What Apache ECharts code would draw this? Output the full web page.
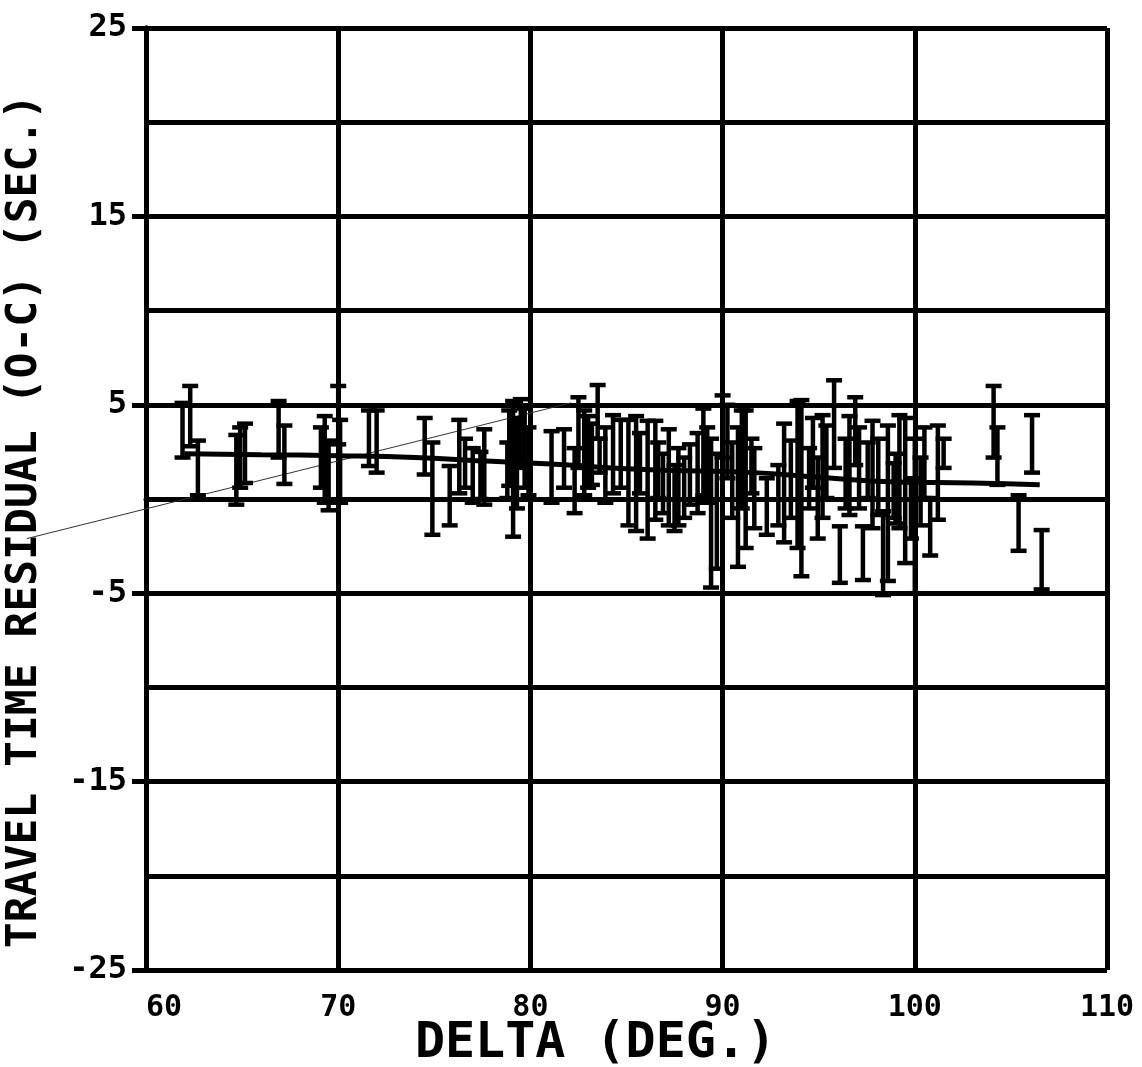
<!DOCTYPE html>
<html>
<head>
<meta charset="utf-8">
<script src="https://cdn.jsdelivr.net/npm/echarts@6/dist/echarts.min.js"></script>
<style>
  html, body { margin: 0; padding: 0; background: #fff; }
  #chart { width: 1142px; height: 1067px; }
</style>
</head>
<body>
<div id="chart"></div>
<script>
// error bars: delta (deg), lower and upper residual (sec)
const barX = [61.9, 62.3, 62.7, 64.7, 64.9, 65.15, 66.9, 67.2, 69.1, 69.3, 69.5, 70.0, 70.1, 71.6, 72.0,
  74.5, 74.9, 75.8, 76.3, 76.6, 77.0, 77.4, 77.6, 78.8, 78.9, 79.1, 79.3, 79.5, 79.7, 79.9,
  81.1, 81.75, 82.3, 82.5, 82.8, 83.0, 83.2, 83.5, 83.6, 83.9, 84.3, 84.7, 85.1, 85.5, 85.7,
  86.1, 86.5, 86.65, 86.9, 87.2, 87.5, 87.7, 88.0, 88.3, 88.7, 89.0, 89.2, 89.4, 89.7, 90.0,
  90.25, 90.5, 90.8, 91.0, 91.2, 91.5, 91.65, 92.3, 92.9, 93.2, 93.55, 93.9, 94.1, 94.5, 94.7,
  94.95, 95.2, 95.4, 95.8, 96.1, 96.4, 96.6, 96.9, 97.1, 97.3, 97.55, 97.8, 98.1, 98.35, 98.6,
  98.9, 99.0, 99.2, 99.5, 99.8, 100.0, 100.3, 100.5, 100.8, 101.2, 101.5, 104.1, 104.3, 105.4, 106.1,
  106.6]
const barLow = [2.2, 2.8, 0.2, -0.3, 0.6, 0.85, 2.2, 0.8, 0.6, -0.2, -0.6, 2.9, -0.2, 1.75, 1.4,
  1.3, -1.9, -1.4, 0.3, 0.6, -0.2, 0.0, -0.3, 0.05, 0.7, -2.0, -0.5, 1.65, 0.6, 0.2,
  -0.2, 0.6, -0.75, 1.65, 0.2, 0.6, 0.75, 3.2, 1.4, -0.2, 0.3, 0.6, -1.4, -1.7, 0.3,
  -2.1, -1.1, 0.05, -0.75, -1.4, -1.7, -1.4, -1.0, -0.3, -0.75, 0.2, -0.2, -4.7, -3.7, 2.2,
  1.1, -1.0, -3.6, -0.5, -2.6, 0.3, -1.55, -1.9, -1.4, -2.3, -1.0, -2.6, -4.1, -0.5, 0.6,
  -2.1, -1.0, 0.05, 1.65, -4.45, -0.5, -0.85, 1.8, -0.5, -4.3, 0.05, -1.55, -0.85, -5.1, -4.35,
  -1.0, -1.3, -1.55, -3.4, -2.1, -5.0, -1.4, 0.05, -3.0, -1.1, 1.65, 2.2, 0.75, -2.75, 1.4,
  -4.8]
const barHigh = [5.1, 6.0, 3.1, 3.4, 3.8, 4.0, 5.2, 3.9, 3.8, 4.4, 3.1, 6.0, 4.2, 4.7, 4.7,
  4.3, 3.0, 1.75, 4.2, 3.2, 2.7, 2.5, 3.7, 3.0, 4.7, 5.2, 4.3, 5.3, 4.8, 3.8,
  3.6, 3.7, 2.7, 5.4, 4.7, 4.4, 4.0, 6.05, 3.2, 3.8, 4.45, 4.2, 4.2, 4.4, 3.5,
  4.15, 4.15, 3.0, 2.4, 3.7, 1.8, 2.7, 2.2, 2.9, 3.5, 4.8, 3.8, 3.2, 2.4, 5.5,
  5.0, 3.0, 3.8, 4.7, 4.7, 3.2, 2.7, 1.1, 1.8, 4.0, 3.1, 5.2, 5.25, 2.7, 4.3,
  2.2, 4.45, 3.9, 6.3, -1.45, 3.2, 4.4, 5.4, 3.8, -1.45, 3.0, 4.15, 3.2, -0.65, 3.9,
  1.9, 2.4, 4.45, 4.3, 1.1, 3.2, 2.2, 3.8, 0.05, 3.9, 3.2, 6.0, 3.8, 0.2, 4.45,
  -1.65]

// fitted residual curve
const fitX = [62, 66, 70, 74, 78, 82, 85, 88, 91.6, 95, 99, 103, 106.5]
const fitY = [2.4, 2.35, 2.3, 2.2, 2.0, 1.8, 1.6, 1.5, 1.4, 1.15, 0.9, 0.85, 0.75]

// faint pencil stroke across the sheet (start and end)
const strokeX = [53.8, 82.1]
const strokeY = [-2.1, 5.1]

const yTickLabels = ['-25', '-15', '-5', '5', '15', '25']

const font = 'DejaVu Sans Mono'
const chart = echarts.init(document.getElementById('chart'))

const renderBar = (params, api) => {
  const x = api.value(0)
  const lo = api.coord([x, api.value(1)])
  const hi = api.coord([x, api.value(2)])
  const half = 8
  const style = { stroke: '#000', lineWidth: 4.5 }
  return {
    type: 'group',
    children: [
      { type: 'line', shape: { x1: lo[0], y1: lo[1], x2: hi[0], y2: hi[1] }, style },
      { type: 'line', shape: { x1: lo[0] - half, y1: lo[1], x2: lo[0] + half, y2: lo[1] }, style },
      { type: 'line', shape: { x1: hi[0] - half, y1: hi[1], x2: hi[0] + half, y2: hi[1] }, style }
    ]
  }
}

const renderStroke = (params, api) => {
  const a = api.coord([api.value(0), api.value(1)])
  const b = api.coord([api.value(2), api.value(3)])
  return {
    type: 'line',
    shape: { x1: a[0], y1: a[1], x2: b[0], y2: b[1] },
    style: { stroke: '#333', lineWidth: 1 }
  }
}

chart.setOption({
  animation: false,
  backgroundColor: '#fff',
  grid: { left: 146, right: 35, top: 28, bottom: 97, outerBoundsMode: 'none', containLabel: false },
  xAxis: {
    type: 'value',
    min: 60,
    max: 110,
    interval: 10,
    name: 'DELTA (DEG.)',
    nameLocation: 'middle',
    nameGap: 49,
    nameMoveOverlap: false,
    nameTextStyle: { fontFamily: font, fontSize: 50, fontWeight: 'bold', color: '#000', verticalAlign: 'top', padding: [0, 62, 0, 0] },
    axisLine: { lineStyle: { color: '#000', width: 5 } },
    axisTick: { inside: false, length: 13, lineStyle: { color: '#000', width: 5 } },
    axisLabel: { margin: 23, color: '#000', fontFamily: font, fontWeight: 'bold', fontSize: 30, alignMinLabel: 'left' },
    splitLine: { lineStyle: { color: '#000', width: 5 } }
  },
  yAxis: [
    {
      type: 'value',
      min: -25,
      max: 25,
      interval: 5,
      axisLine: { show: true, lineStyle: { color: '#000', width: 5 } },
      axisTick: { show: false },
      axisLabel: { show: false },
      splitLine: { lineStyle: { color: '#000', width: 5 } }
    },
    {
      type: 'value',
      position: 'left',
      min: 0,
      max: 50,
      interval: 10,
      name: 'TRAVEL TIME RESIDUAL (O-C) (SEC.)',
      nameLocation: 'middle',
      nameGap: 100,
      nameRotate: 90,
      nameTextStyle: { fontFamily: font, fontSize: 43, fontWeight: 'bold', color: '#000', padding: [0, 44, 0, 0] },
      axisLine: { show: true, lineStyle: { color: '#000', width: 5 } },
      axisTick: { inside: false, length: 14, lineStyle: { color: '#000', width: 5 } },
      axisLabel: {
        margin: 19,
        color: '#000',
        fontFamily: font,
        fontWeight: 'bold',
        fontSize: 32,
        formatter: (v) => yTickLabels[Math.round(v / 10)]
      },
      splitLine: { show: false }
    }
  ],
  series: [
    {
      type: 'custom',
      renderItem: renderBar,
      encode: { x: 0, y: [1, 2] },
      data: barX.map((x, i) => [x, barLow[i], barHigh[i]]),
      z: 3
    },
    {
      type: 'line',
      data: fitX.map((x, i) => [x, fitY[i]]),
      smooth: true,
      showSymbol: false,
      lineStyle: { color: '#000', width: 5 },
      z: 4
    },
    {
      type: 'custom',
      renderItem: renderStroke,
      clip: false,
      encode: { x: [0, 2], y: [1, 3] },
      data: [[strokeX[0], strokeY[0], strokeX[1], strokeY[1]]],
      z: 2
    }
  ]
})
</script>
</body>
</html>
